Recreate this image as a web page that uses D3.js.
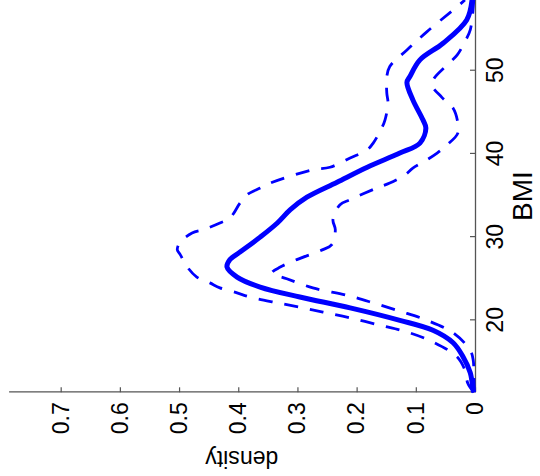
<!DOCTYPE html>
<html>
<head>
<meta charset="utf-8">
<script src="https://cdn.jsdelivr.net/npm/d3@7"></script>
<style>
  html, body { margin: 0; padding: 0; background: #fff; }
  svg { display: block; }
  text { font-family: "Liberation Sans", Arial, Helvetica, sans-serif; }
</style>
</head>
<body>
<svg id="chart" width="540" height="476"></svg>
<script>
// ---- data (BMI vs estimated density) ----
const meanBMI = [11.35, 11.6, 13.7, 15.6, 17.3, 18.8, 20.0, 21.5, 22.8, 24.0, 25.2, 26.4, 27.3, 28.2, 30.0, 31.7, 33.3, 34.8, 36.6, 38.4, 40.1, 41.3, 43.1, 44.1, 46.5, 48.6, 49.3, 51.3, 53.3, 56.1, 58.5];
const meanDensity = [0.002, 0.003, 0.008, 0.020, 0.037, 0.071, 0.127, 0.211, 0.296, 0.363, 0.402, 0.419, 0.414, 0.397, 0.363, 0.334, 0.312, 0.284, 0.233, 0.182, 0.127, 0.093, 0.083, 0.088, 0.105, 0.115, 0.110, 0.093, 0.054, 0.014, 0.005];

const upperBMI = [11.35, 12.4, 14.0, 15.6, 17.4, 18.6, 19.4, 20.3, 21.0, 21.5, 22.1, 22.8, 23.3, 23.9, 24.5, 25.2, 26.4, 27.9, 28.5, 29.4, 30.5, 30.9, 31.7, 32.3, 34.1, 35.1, 35.9, 36.5, 38.1, 38.4, 39.5, 40.5, 41.3, 43.2, 44.1, 46.1, 47.3, 49.3, 50.5, 52.5, 54.7, 57.7, 58.5];
const upperDensity = [0.002, 0.012, 0.017, 0.030, 0.071, 0.115, 0.160, 0.211, 0.257, 0.291, 0.334, 0.380, 0.402, 0.431, 0.448, 0.470, 0.486, 0.498, 0.503, 0.498, 0.478, 0.459, 0.431, 0.414, 0.397, 0.385, 0.363, 0.346, 0.274, 0.245, 0.211, 0.182, 0.172, 0.157, 0.152, 0.147, 0.149, 0.149, 0.144, 0.115, 0.081, 0.030, 0.017];

const lowerBMI = [11.35, 13.4, 15.2, 16.4, 18.5, 20.0, 21.1, 22.1, 23.0, 23.9, 25.0, 25.7, 26.4, 27.3, 28.5, 29.1, 30.9, 32.1, 33.9, 34.5, 35.9, 36.5, 37.5, 38.3, 39.0, 40.1, 41.1, 42.5, 44.1, 45.5, 46.8, 48.3, 49.1, 50.7, 51.9, 53.5, 54.9, 58.5];
const lowerDensity = [0.001, 0.002, 0.003, 0.008, 0.037, 0.081, 0.127, 0.172, 0.216, 0.274, 0.318, 0.343, 0.329, 0.301, 0.257, 0.242, 0.236, 0.240, 0.228, 0.211, 0.166, 0.144, 0.118, 0.105, 0.088, 0.064, 0.047, 0.029, 0.030, 0.037, 0.056, 0.073, 0.069, 0.047, 0.030, 0.017, 0.008, 0.002];

const bmiTicks = [20, 30, 40, 50];
const densityTicks = [0, 0.1, 0.2, 0.3, 0.4, 0.5, 0.6, 0.7];
const bmiDomain = [11.35, 58.5];
const densityDomain = [0, 0.788];

// ---- layout: a normal chart drawn in a frame rotated -90 degrees ----
const W = 392.3;   // length of BMI axis (screen vertical)
const H = 466.4;   // length of density axis (screen horizontal)
const svg = d3.select("#chart");
const g = svg.append("g").attr("transform", "translate(8.6,392.3) rotate(-90)");

const x = d3.scaleLinear().domain(bmiDomain).range([0, W]);
const y = d3.scaleLinear().domain(densityDomain).range([H, 0]);

const axisColor = "#555";

const xAxis = g.append("g")
  .attr("transform", `translate(0,${H})`)
  .call(d3.axisBottom(x).tickValues(bmiTicks).tickSizeInner(-5).tickSizeOuter(0).tickPadding(12));

const yAxis = g.append("g")
  .call(d3.axisLeft(y).tickValues(densityTicks).tickSizeInner(-5).tickSizeOuter(0).tickPadding(10)
        .tickFormat(d => d === 0 ? "0" : d3.format(".1f")(d)));

[xAxis, yAxis].forEach(a => {
  a.select(".domain").attr("stroke", axisColor).attr("stroke-width", 1.3);
  a.selectAll(".tick line").attr("stroke", axisColor).attr("stroke-width", 1.2);
  a.selectAll(".tick text").attr("fill", "#000").style("font-size", "23px")
    .style("font-family", "'Liberation Sans', Arial, sans-serif");
});

// labels
g.append("text")
  .attr("x", W / 2).attr("y", H + 57)
  .attr("text-anchor", "middle")
  .style("font-size", "28px").attr("fill", "#000")
  .text("BMI");

g.append("text")
  .attr("transform", `translate(${-59},${H / 2}) rotate(-90)`)
  .attr("text-anchor", "middle")
  .style("font-size", "23px").attr("fill", "#000")
  .text("density");

// curves
const line = d3.line()
  .x(d => x(d[0]))
  .y(d => y(d[1]))
  .curve(d3.curveCatmullRom.alpha(0.5));

const series = [
  { bmi: upperBMI, dens: upperDensity, width: 2.8, dash: "14,12" },
  { bmi: lowerBMI, dens: lowerDensity, width: 2.8, dash: "14,12" },
  { bmi: meanBMI, dens: meanDensity, width: 5, dash: null }
];

series.forEach(s => {
  const pts = d3.zip(s.bmi, s.dens);
  g.append("path")
    .datum(pts)
    .attr("d", line)
    .attr("fill", "none")
    .attr("stroke", "#0000ff")
    .attr("stroke-width", s.width)
    .attr("stroke-dasharray", s.dash)
    .attr("stroke-linejoin", "round");
});
</script>
</body>
</html>
